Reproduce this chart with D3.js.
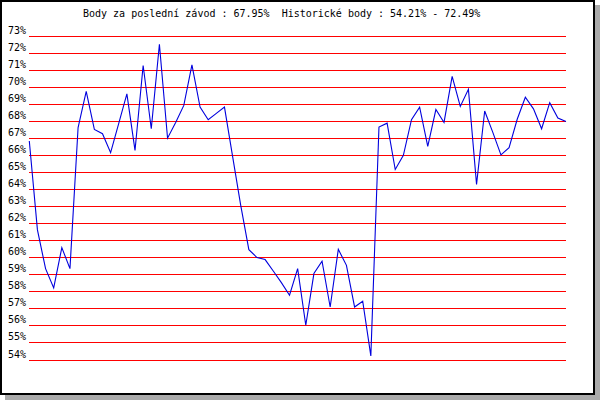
<!DOCTYPE html>
<html>
<head>
<meta charset="utf-8">
<script src="https://cdn.jsdelivr.net/npm/d3@7"></script>
<style>
  html, body { margin: 0; padding: 0; background: #fff; }
  svg { display: block; }
  text { font-family: "DejaVu Sans Mono", "Liberation Mono", monospace; font-size: 10px; fill: #000; }
</style>
</head>
<body>
<div id="chart"></div>
<script>
// percentage ticks on the left
const yTicks = [54, 55, 56, 57, 58, 59, 60, 61, 62, 63, 64, 65, 66, 67, 68, 69, 70, 71, 72, 73];

// score per race, oldest first
const scores = [
  66.81, 61.6, 59.33, 58.2, 60.56, 59.33, 67.6, 69.72, 67.49, 67.24,
  66.13, 67.85, 69.58, 66.26, 71.24, 67.53, 72.49, 66.98, 67.9, 68.9,
  71.28, 68.8, 68.06, 68.43, 68.8, 65.91, 63.04, 60.44, 59.98, 59.86,
  59.19, 58.51, 57.77, 59.33, 56.01, 59.04, 59.76, 57.08, 60.46, 59.52,
  57.08, 57.42, 54.21, 67.63, 67.86, 65.14, 65.97, 68.06, 68.8, 66.5,
  68.66, 67.9, 70.6, 68.84, 69.85, 64.27, 68.57, 67.32, 66.0, 66.42,
  68.09, 69.38, 68.7, 67.53, 69.06, 68.16, 67.95
];

const lastScore = "67.95%";
const histRange = ["54.21%", "72.49%"];

const width = 600;
const height = 400;

const svg = d3.select('#chart').append('svg')
  .attr('width', width)
  .attr('height', height);

// shadow + frame
svg.append('rect')
  .attr('x', 5).attr('y', 5)
  .attr('width', 595).attr('height', 395)
  .attr('fill', '#aaaaaa');

svg.append('rect')
  .attr('x', 1).attr('y', 1)
  .attr('width', 593).attr('height', 393)
  .attr('fill', '#fff')
  .attr('stroke', '#000')
  .attr('stroke-width', 2);

const x = d3.scaleLinear()
  .domain([0, scores.length - 1])
  .range([29.3, 566]);

const y = d3.scaleLinear()
  .domain([54, 73])
  .range([359.5, 35.5]);

const axis = svg.append('g')
  .attr('transform', 'translate(29,0)')
  .call(d3.axisLeft(y)
    .tickValues(yTicks)
    .tickSize(-537)
    .tickFormat(d => d + '%'));

axis.select('.domain').remove();
axis.selectAll('.tick line')
  .attr('stroke', '#ff0000')
  .attr('shape-rendering', 'crispEdges');
axis.selectAll('.tick text')
  .attr('x', -21)
  .attr('dy', -2.5)
  .attr('text-anchor', 'start')
  .attr('fill', '#000')
  .style('font-size', '10px')
  .style('font-family', '"DejaVu Sans Mono", monospace');

const line = d3.line()
  .x((d, i) => x(i))
  .y(d => y(d));

svg.append('path')
  .datum(scores)
  .attr('fill', 'none')
  .attr('stroke', '#0000dd')
  .attr('stroke-width', 1.1)
  .attr('d', line);

svg.append('text')
  .attr('x', 83)
  .attr('y', 17)
  .style('white-space', 'pre')
  .text(`Body za poslední závod : ${lastScore}  Historické body : ${histRange[0]} - ${histRange[1]}`);
</script>
</body>
</html>
